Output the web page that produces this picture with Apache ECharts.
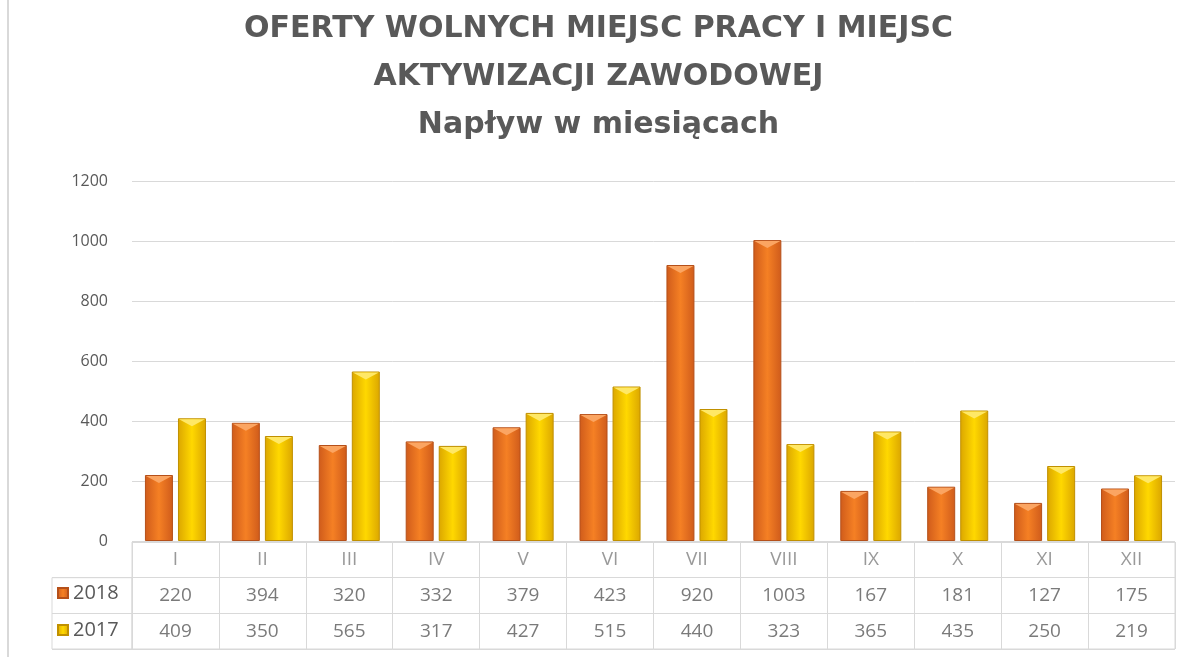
<!DOCTYPE html>
<html>
<head>
<meta charset="utf-8">
<script src="https://cdn.jsdelivr.net/npm/echarts@6/dist/echarts.min.js"></script>
<style>
  html, body { margin: 0; padding: 0; background: #fff; }
  #chart { width: 1197px; height: 657px; }
</style>
</head>
<body>
<div id="chart"></div>
<script>
const months = ['I', 'II', 'III', 'IV', 'V', 'VI', 'VII', 'VIII', 'IX', 'X', 'XI', 'XII']
const values2018 = [220, 394, 320, 332, 379, 423, 920, 1003, 167, 181, 127, 175]
const values2017 = [409, 350, 565, 317, 427, 515, 440, 323, 365, 435, 250, 219]
const tableRows = ['hdr', '2018', '2017']

const gray = '#595959'
const lineGray = '#D9D9D9'
const font = 'Open Sans'

const hGrad = (edge, mid) => new echarts.graphic.LinearGradient(0, 0, 1, 0, [
  { offset: 0, color: edge },
  { offset: 0.5, color: mid },
  { offset: 1, color: edge },
])
const orange = hGrad('#CF5B1B', '#F58024')
const yellow = hGrad('#DBA600', '#FFD800')

// light "bevel" triangle sitting on top of each bar
const bevel = (name, vals, color) => ({
  name,
  type: 'pictorialBar',
  data: vals,
  barWidth: 28,
  barGap: '18%',
  symbol: 'path://M0,0 L28,0 L14,8 Z',
  symbolSize: [26, 7],
  symbolPosition: 'end',
  symbolOffset: [0, 1],
  silent: true,
  z: 3,
  itemStyle: { color },
})

const tableSeries = (name, row, vals) => ({
  name,
  type: 'scatter',
  xAxisIndex: 1,
  yAxisIndex: 1,
  symbolSize: 0,
  silent: true,
  data: months.map((m, i) => [m, row, vals ? vals[i] : m]),
  label: {
    show: true,
    position: 'inside',
    formatter: p => p.value[2],
    color: vals ? gray : '#7F7F7F',
    fontSize: 19,
    fontFamily: font,
  },
})

const chart = echarts.init(document.getElementById('chart'))
chart.setOption({
  animation: false,
  backgroundColor: '#fff',
  title: {
    text: 'OFERTY WOLNYCH MIEJSC PRACY I MIEJSC\nAKTYWIZACJI ZAWODOWEJ\nNapływ w miesiącach',
    left: 'center',
    top: 0,
    textStyle: {
      fontFamily: 'DejaVu Sans',
      fontSize: 30,
      fontWeight: 'bold',
      color: gray,
      lineHeight: 48,
    },
  },
  legend: {
    data: ['2018', '2017'],
    orient: 'vertical',
    left: 52,
    top: 578,
    padding: 5,
    itemWidth: 10,
    itemHeight: 10,
    itemGap: 17,
    icon: 'rect',
    selectedMode: false,
    textStyle: { color: gray, fontSize: 20, fontFamily: font },
  },
  graphic: [
    { type: 'rect', left: 7, top: 0, shape: { width: 2, height: 657 }, style: { fill: lineGray } },
  ],
  grid: [
    { left: 132, right: 22, top: 181, bottom: 116 },
    { left: 132, right: 22, top: 542, height: 107, show: true, borderColor: lineGray, borderWidth: 1 },
    { left: 52, width: 80, top: 577.7, height: 71.3, show: true, borderColor: lineGray, borderWidth: 1 },
  ],
  xAxis: [
    {
      type: 'category', gridIndex: 0, data: months,
      axisLine: { show: false }, axisTick: { show: false }, axisLabel: { show: false },
    },
    {
      type: 'category', gridIndex: 1, data: months,
      axisLine: { show: false }, axisTick: { show: false }, axisLabel: { show: false },
      splitLine: { show: true, interval: 0, lineStyle: { color: lineGray } },
    },
    {
      type: 'category', gridIndex: 2, data: [''],
      axisLine: { show: false }, axisTick: { show: false }, axisLabel: { show: false },
    },
  ],
  yAxis: [
    {
      type: 'value', gridIndex: 0, min: 0, max: 1200, interval: 200,
      axisLine: { show: false }, axisTick: { show: false },
      axisLabel: { color: gray, fontSize: 16, fontFamily: font, margin: 24, formatter: v => String(v) },
      splitLine: { lineStyle: { color: lineGray } },
    },
    {
      type: 'category', gridIndex: 1, data: tableRows, inverse: true,
      axisLine: { show: false }, axisTick: { show: false }, axisLabel: { show: false },
      splitLine: { show: true, interval: 0, lineStyle: { color: lineGray } },
    },
    {
      type: 'category', gridIndex: 2, data: ['2018', '2017'], inverse: true,
      axisLine: { show: false }, axisTick: { show: false }, axisLabel: { show: false },
      splitLine: { show: true, interval: 0, lineStyle: { color: lineGray } },
    },
  ],
  series: [
    {
      name: '2018', type: 'bar', data: values2018,
      barWidth: 28, barGap: '18%',
      itemStyle: { color: orange, borderColor: '#B5501A', borderWidth: 1 },
    },
    {
      name: '2017', type: 'bar', data: values2017,
      barWidth: 28, barGap: '18%',
      itemStyle: { color: yellow, borderColor: '#C09000', borderWidth: 1 },
    },
    bevel('b2018', values2018, '#FBA562'),
    bevel('b2017', values2017, '#FFE866'),
    tableSeries('hdr', 'hdr', null),
    tableSeries('t2018', '2018', values2018),
    tableSeries('t2017', '2017', values2017),
  ],
})
</script>
</body>
</html>
